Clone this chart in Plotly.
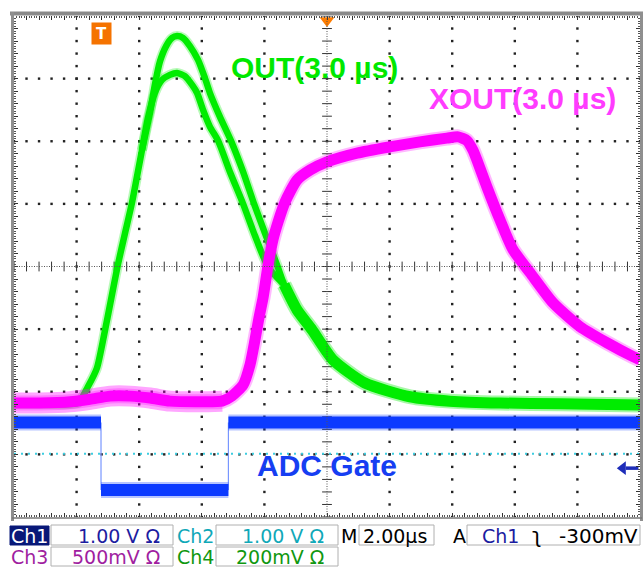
import numpy as np
import plotly.graph_objects as go

# ---------------- data (time in µs, 2 µs/div; vertical in divisions 0..8) ----------------
out_hi_t = [0.00, 0.99, 2.04, 2.36, 2.65, 2.88, 3.10, 3.32, 3.55, 3.77, 4.09, 4.35, 4.50, 4.66,
            4.86, 5.05, 5.21, 5.40, 5.62, 5.88, 6.10, 6.26, 6.58, 6.93, 7.32, 7.67, 8.05, 8.43,
            8.63, 9.04, 9.52, 10.19, 11.21, 12.65, 13.93, 15.53, 17.44, 20.00]
out_hi_v = [1.81, 1.81, 1.82, 2.08, 2.38, 2.91, 3.47, 4.03, 4.54, 5.02, 5.86, 6.47, 6.90, 7.27,
            7.52, 7.65, 7.68, 7.65, 7.52, 7.30, 7.01, 6.77, 6.39, 6.01, 5.51, 5.00, 4.49, 3.99,
            3.71, 3.31, 2.99, 2.51, 2.14, 1.92, 1.85, 1.82, 1.81, 1.79]

out_lo_t = [4.09, 4.28, 4.50, 4.73, 4.98, 5.21, 5.46, 5.69, 5.85, 6.04, 6.26, 6.52, 6.90, 7.32,
            7.70, 8.12, 8.63]
out_lo_v = [5.86, 6.37, 6.77, 6.98, 7.06, 7.09, 7.04, 6.90, 6.77, 6.50, 6.23, 6.01, 5.51, 5.00,
            4.49, 3.99, 3.71]

xout_t = [0.00, 0.83, 1.79, 2.43, 3.07, 3.71, 4.35, 4.98, 5.94, 6.65, 6.96, 7.32, 7.54, 7.70,
          7.83, 7.96, 8.12, 8.27, 8.43, 8.66, 9.04, 9.46, 10.00, 10.96, 12.01, 12.97, 13.83,
          14.19, 14.47, 14.66, 14.79, 15.11, 15.53, 15.94, 16.49, 17.22, 18.08, 18.95, 19.78, 20.00]
xout_v = [1.82, 1.82, 1.84, 1.88, 1.93, 1.93, 1.90, 1.85, 1.84, 1.85, 1.93, 2.11, 2.43, 2.83,
          3.19, 3.51, 4.03, 4.42, 4.70, 5.03, 5.38, 5.54, 5.67, 5.81, 5.91, 5.99, 6.05,
          6.07, 6.01, 5.86, 5.70, 5.27, 4.74, 4.27, 3.90, 3.42, 3.04, 2.78, 2.56, 2.51]

gate_edges_t = [2.78, 6.85]
gate_high = 1.51
gate_low = 0.43
ch2_level = 1.01
trig_t = 2.78

labels_row1 = ["Ch1", "1.00 V Ω", "Ch2", "1.00 V Ω", "M", "2.00µs", "A", "Ch1", "ʅ", "-300mV"]
labels_row2 = ["Ch3", "500mV Ω", "Ch4", "200mV Ω"]

# ---------------- layout geometry ----------------
W, H = 643, 567
L, R, T, B = 14, 640, 16, 517


def px(x):
    return (x - L) / (R - L)


def py(y):
    return (B - y) / (B - T)


GREEN = "rgb(0,236,0)"
MAG = "rgb(255,0,255)"
BLUE = "rgb(12,58,255)"

fig = go.Figure()

# grid dots
gx, gy = [], []
for xv in [2, 4, 6, 8, 12, 14, 16, 18]:
    for yv in np.arange(0, 8.001, 0.2):
        gx.append(xv); gy.append(yv)
for yv in [1, 2, 3, 5, 6, 7]:
    for xv in np.arange(0, 20.001, 0.4):
        gx.append(xv); gy.append(yv)
fig.add_trace(go.Scatter(x=gx, y=gy, mode="markers", hoverinfo="skip",
                         marker=dict(symbol="square", size=2.4, color="#222", line=dict(width=0))))

# centre cross ticks
cx = list(np.arange(0, 20.001, 0.4))
fig.add_trace(go.Scatter(x=cx, y=[4] * len(cx), mode="markers", hoverinfo="skip",
                         marker=dict(symbol="line-ns", size=7, line=dict(width=1, color="#333"))))
cy = list(np.arange(0, 8.001, 0.2))
fig.add_trace(go.Scatter(x=[10] * len(cy), y=cy, mode="markers", hoverinfo="skip",
                         marker=dict(symbol="line-ew", size=7, line=dict(width=1, color="#333"))))

# Ch2 (cyan) dotted trace
fig.add_trace(go.Scatter(x=[0, 20], y=[ch2_level, ch2_level], mode="lines", hoverinfo="skip",
                         line=dict(color="rgb(60,205,225)", width=2, dash="2px,5px")))

SPL = dict(shape="spline", smoothing=0.6)

# OUT (green) - two bands, merged noisy tail drawn thicker
k = out_hi_t.index(out_lo_t[-1])
fig.add_trace(go.Scatter(x=out_hi_t[k:], y=out_hi_v[k:], mode="lines", hoverinfo="skip",
                         line=dict(color="rgba(0,236,0,0.35)", width=15, **SPL)))
fig.add_trace(go.Scatter(x=out_hi_t[k:], y=out_hi_v[k:], mode="lines", hoverinfo="skip",
                         line=dict(color=GREEN, width=11, **SPL)))
for t, v in [(out_hi_t, out_hi_v), (out_lo_t, out_lo_v)]:
    fig.add_trace(go.Scatter(x=t, y=v, mode="lines", hoverinfo="skip",
                             line=dict(color="rgba(0,236,0,0.28)", width=10, **SPL)))
    fig.add_trace(go.Scatter(x=t, y=v, mode="lines", hoverinfo="skip",
                             line=dict(color=GREEN, width=6.5, **SPL)))

# XOUT (magenta), noisy flat baseline drawn thicker
m = 10
fig.add_trace(go.Scatter(x=xout_t[:m], y=xout_v[:m], mode="lines", hoverinfo="skip",
                         line=dict(color="rgba(255,0,255,0.35)", width=21, **SPL)))
fig.add_trace(go.Scatter(x=xout_t, y=xout_v, mode="lines", hoverinfo="skip",
                         line=dict(color="rgba(255,0,255,0.28)", width=15, **SPL)))
fig.add_trace(go.Scatter(x=xout_t, y=xout_v, mode="lines", hoverinfo="skip",
                         line=dict(color=MAG, width=11, **SPL)))

# ADC gate (blue)
t0, t1 = gate_edges_t
fig.add_trace(go.Scatter(x=[t0, t0, None, t1, t1], y=[gate_high, gate_low, None, gate_low, gate_high],
                         mode="lines", hoverinfo="skip", line=dict(color="rgb(120,150,255)", width=1.2)))
gxs = [0, t0, None, t0, t1, None, t1, 20]
gys = [gate_high, gate_high, None, gate_low, gate_low, None, gate_high, gate_high]
fig.add_trace(go.Scatter(x=gxs, y=gys, mode="lines", hoverinfo="skip",
                         line=dict(color="rgba(12,58,255,0.3)", width=16)))
fig.add_trace(go.Scatter(x=gxs, y=gys, mode="lines", hoverinfo="skip",
                         line=dict(color=BLUE, width=12)))

# left channel markers
fig.add_trace(go.Scatter(x=[-0.12] * 4, y=[1.60, 1.34, 1.10, 0.99], mode="markers", cliponaxis=False,
                         hoverinfo="skip",
                         marker=dict(symbol="triangle-right", size=7,
                                     color=["rgb(0,200,0)", "rgb(200,40,200)", "rgb(30,30,170)", "rgb(60,200,220)"])))

# top markers
fig.add_trace(go.Scatter(x=[10], y=[7.93], mode="markers", cliponaxis=False, hoverinfo="skip",
                         marker=dict(symbol="triangle-down", size=13, color="rgb(255,125,0)")))
fig.add_trace(go.Scatter(x=[1.63, 5.72, 14.25], y=[8.12] * 3, mode="markers", cliponaxis=False,
                         hoverinfo="skip", marker=dict(symbol="line-ew", size=5, line=dict(width=2, color="#222"))))
fig.add_trace(go.Scatter(x=[6.9], y=[8.12], mode="markers", cliponaxis=False, hoverinfo="skip",
                         marker=dict(symbol="line-ew", size=7, line=dict(width=2, color="rgb(255,125,0)"))))

# right-side trigger level arrow (stem + head)
fig.add_trace(go.Scatter(x=[19.55, 19.95], y=[0.78, 0.78], mode="lines", cliponaxis=False, hoverinfo="skip",
                         line=dict(color="rgb(30,45,185)", width=3.5)))
fig.add_trace(go.Scatter(x=[19.45], y=[0.78], mode="markers", cliponaxis=False, hoverinfo="skip",
                         marker=dict(symbol="triangle-left", size=12, color="rgb(30,45,185)")))

shapes = []
# centre dense dotted lines
shapes.append(dict(type="line", xref="x", yref="y", x0=0, x1=20, y0=4, y1=4,
                   line=dict(color="#555", width=1, dash="1px,1.5px")))
shapes.append(dict(type="line", xref="x", yref="y", x0=10, x1=10, y0=0, y1=8,
                   line=dict(color="#555", width=1, dash="1px,1.5px")))
# frame
shapes.append(dict(type="line", xref="paper", yref="paper", x0=px(10), x1=px(643), y0=py(13.5), y1=py(13.5),
                   line=dict(color="#8a8a8a", width=4)))
shapes.append(dict(type="line", xref="paper", yref="paper", x0=px(12.5), x1=px(12.5), y0=py(521), y1=py(12),
                   line=dict(color="#8f8f8f", width=3)))
shapes.append(dict(type="line", xref="paper", yref="paper", x0=px(641.5), x1=px(641.5), y0=py(521), y1=py(12),
                   line=dict(color="#8f8f8f", width=3)))
shapes.append(dict(type="line", xref="paper", yref="paper", x0=px(12), x1=px(642), y0=py(518), y1=py(518),
                   line=dict(color="#777", width=1.5)))


# status bar boxes
def box(x0, x1, y0, y1, fill="white", line="#b0b0b0"):
    shapes.append(dict(type="rect", xref="paper", yref="paper", x0=px(x0), x1=px(x1), y0=py(y1), y1=py(y0),
                       fillcolor=fill, line=dict(color=line, width=1)))


box(10, 49, 526, 545, fill="rgb(8,24,120)", line="rgb(8,24,120)")
box(51, 173, 525, 545)
box(216, 338, 525, 545)
box(359, 434, 525, 545)
box(467, 640, 525, 545)
box(51, 173, 547, 566)
box(216, 338, 547, 566)

annotations = []


def ann(x, y, text, color, anchor="left", size=19, family="DejaVu Sans", bold=False):
    annotations.append(dict(xref="paper", yref="paper", x=px(x), y=py(y),
                            text=("<b>%s</b>" % text) if bold else text,
                            showarrow=False, xanchor=anchor, yanchor="middle",
                            font=dict(color=color, size=size, family=family)))


NAVY = "rgb(28,28,160)"
CYAN = "rgb(16,168,184)"
PURP = "rgb(160,30,160)"
DGRN = "rgb(16,152,16)"

ann(29.5, 535.5, labels_row1[0], "white", anchor="center")
ann(162, 535.5, labels_row1[1], NAVY, anchor="right")
ann(175, 535.5, labels_row1[2], CYAN)
ann(326, 535.5, labels_row1[3], CYAN, anchor="right")
ann(339, 535.5, labels_row1[4], "black")
ann(361, 535.5, labels_row1[5], "black")
ann(451, 535.5, labels_row1[6], "black")
ann(480, 535.5, labels_row1[7], NAVY)
ann(530, 535.5, labels_row1[8], "black", size=21)
ann(640, 535.5, labels_row1[9], "black", anchor="right", size=20)
ann(9, 556.5, labels_row2[0], PURP)
ann(162, 556.5, labels_row2[1], PURP, anchor="right")
ann(175, 556.5, labels_row2[2], DGRN)
ann(326, 556.5, labels_row2[3], DGRN, anchor="right")

# trace labels
ann(314, 67, "OUT(3.0 µs)", "rgb(0,232,0)", anchor="center", size=30, family="Liberation Sans", bold=True)
ann(522, 98, "XOUT(3.0 µs)", "rgb(255,60,255)", anchor="center", size=30, family="Liberation Sans", bold=True)
ann(327, 465, "ADC Gate", "rgb(22,62,242)", anchor="center", size=30, family="Liberation Sans", bold=True)

# trigger "T" icon
annotations.append(dict(xref="x", yref="y", x=trig_t, y=7.72, text="<b>T</b>", showarrow=False,
                        font=dict(color="white", size=15, family="DejaVu Sans"),
                        bgcolor="rgb(245,115,0)", borderpad=2, width=15, height=17))

fig.update_layout(
    width=W, height=H, autosize=False,
    margin=dict(l=L, r=W - R, t=T, b=H - B, pad=0),
    paper_bgcolor="white", plot_bgcolor="white",
    showlegend=False,
    shapes=shapes, annotations=annotations,
    xaxis=dict(range=[0, 20], showgrid=False, zeroline=False, showticklabels=False,
               showline=False, ticks="inside", ticklen=4, tickwidth=1, tickcolor="#333",
               dtick=0.4, tick0=0, mirror="ticks",
               minor=dict(dtick=0.08, ticklen=2, tickcolor="#555", ticks="inside", showgrid=False),
               fixedrange=True),
    yaxis=dict(range=[0, 8], showgrid=False, zeroline=False, showticklabels=False,
               showline=False, ticks="inside", ticklen=4, tickwidth=1, tickcolor="#333",
               dtick=0.2, tick0=0, mirror="ticks",
               minor=dict(dtick=0.04, ticklen=2, tickcolor="#555", ticks="inside", showgrid=False),
               fixedrange=True),
)

fig.write_html("out.html")
